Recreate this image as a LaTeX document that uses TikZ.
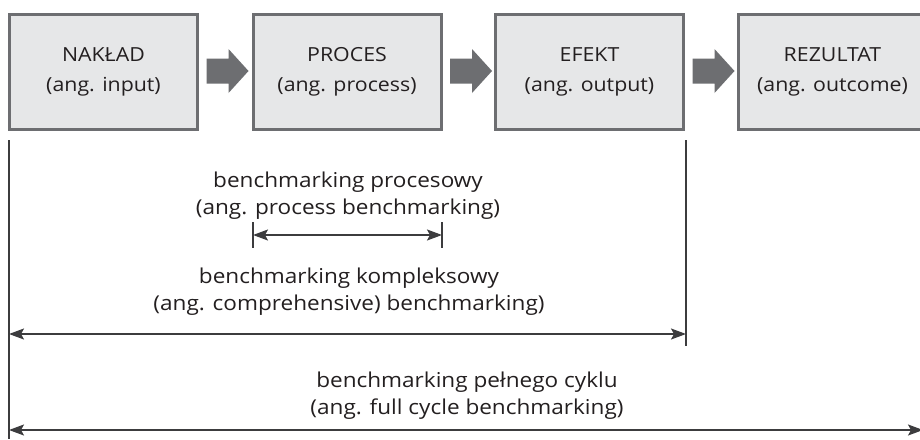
\documentclass[tikz,border=0pt]{standalone}
\usepackage{fontspec}
\setmainfont{Open Sans}[FakeStretch=1.1]
\usetikzlibrary{arrows.meta,calc}
\definecolor{boxfill}{HTML}{E6E7E8}
\definecolor{boxline}{HTML}{6D6E71}
\definecolor{ink}{HTML}{231F20}
\definecolor{dimline}{HTML}{3C3C3E}
\begin{document}
\begin{tikzpicture}[x=1pt,y=-1pt,
  box/.style={draw=boxline, line width=3pt, fill=boxfill, minimum width=188pt,
    minimum height=115pt, inner sep=0pt, align=center,
    font=\fontsize{19.4}{30}\selectfont, text=ink},
  lbl/.style={align=center, font=\fontsize{20.5}{27}\selectfont, text=ink, inner sep=0pt},
  tick/.style={draw=dimline, line width=1.2pt},
  dimarrow/.style={draw=dimline, line width=1.5pt,
    {Stealth[length=15pt,width=11pt,inset=3pt]}-{Stealth[length=15pt,width=11pt,inset=3pt]}}
]
\useasboundingbox (0,0) rectangle (920,439);
\fill[white] (0,0) rectangle (920,439);

\node[box] (b1) at (103.5,72) {NAKŁAD\\(ang. input)};
\node[box] (b2) at (347,72) {PROCES\\(ang. process)};
\node[box] (b3) at (589.5,72) {EFEKT\\(ang. output)};
\node[box] (b4) at (832.5,72) {REZULTAT\\(ang. outcome)};

\foreach \a in {b1,b2,b3}{
  \fill[boxline] ($(\a.east)+(7.5,-1)$) ++(0,-12.5) -- ++(22,0) -- ++(0,-9.5)
    -- ++(20,22) -- ++(-20,22) -- ++(0,-9.5) -- ++(-22,0) -- cycle;
}

% vertical guide lines
\coordinate (L0) at (9,140);
\coordinate (L0b) at (9,439);
\coordinate (R3) at (686,140);
\coordinate (R3b) at (686,346);
\coordinate (P1) at (253,222);
\coordinate (P1b) at (253,248);
\coordinate (P2) at (442,222);
\coordinate (P2b) at (442,248);
\draw[tick] (L0) -- (L0b);
\draw[tick] (R3) -- (R3b);
\draw[tick] (P1) -- (P1b);
\draw[tick] (P2) -- (P2b);

% arrows
\coordinate (pa) at (253,235);
\coordinate (pb) at (442,235);
\coordinate (ka) at (9,334);
\coordinate (kb) at (686,334);
\coordinate (fa) at (9,430);
\coordinate (fb) at (923,430);
\draw[dimarrow] (pa) -- (pb);
\draw[dimarrow] (ka) -- (kb);
\draw[dimarrow] (fa) -- (fb);

\node[lbl] (t1) at (348,196) {benchmarking procesowy\\(ang. process benchmarking)};
\node[lbl] (t2) at (349,292) {benchmarking kompleksowy\\(ang. comprehensive) benchmarking)};
\node[lbl] (t3) at (467,396) {benchmarking pełnego cyklu\\(ang. full cycle benchmarking)};
\end{tikzpicture}
\end{document}
